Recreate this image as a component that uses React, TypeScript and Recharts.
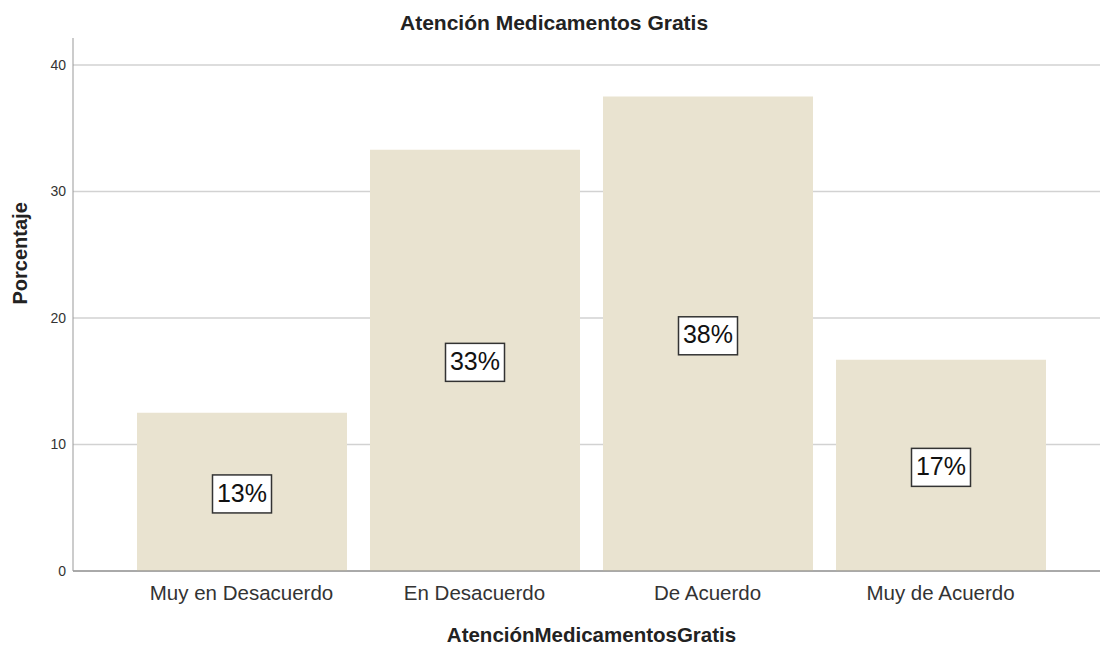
import React from 'react'
import {
  BarChart,
  Bar,
  XAxis,
  YAxis,
  CartesianGrid,
  LabelList,
} from 'recharts'

const categories = ['Muy en Desacuerdo', 'En Desacuerdo', 'De Acuerdo', 'Muy de Acuerdo']
const percentages = [12.5, 33.3, 37.5, 16.7]
const yTicks = [0, 10, 20, 30, 40]

const chartData = categories.map((name, i) => ({ name, pct: percentages[i] }))

const FONT = 'Arial, "Liberation Sans", sans-serif'

const BoxLabel = (props: any) => {
  const { x, y, width, height, value } = props
  const cx = x + width / 2
  const cy = y + height / 2 + 2
  const w = 59
  const h = 38
  return (
    <g>
      <rect x={cx - w / 2} y={cy - h / 2} width={w} height={h} fill="#fff" stroke="#333" strokeWidth={1.5} />
      <text x={cx} y={cy + 1} textAnchor="middle" dominantBaseline="middle" fontSize={25} fill="#111" fontFamily={FONT}>
        {Math.round(value) + '%'}
      </text>
    </g>
  )
}

export default function App() {
  return (
    <div style={{ position: 'absolute', left: 0, top: 0, width: 1100, height: 645, background: '#fff', fontFamily: FONT }}>
      <div style={{ position: 'absolute', top: 11, left: 400, width: 307, textAlign: 'center', fontSize: 21, fontWeight: 'bold', color: '#222', whiteSpace: 'nowrap' }}>
        Atención Medicamentos Gratis
      </div>
      <BarChart
        width={1100}
        height={645}
        data={chartData}
        margin={{ top: 38, right: 0, left: 0, bottom: 0 }}
        barSize={210}
      >
        <CartesianGrid vertical={false} stroke="#d2d2d2" strokeWidth={1.5} syncWithTicks />
        <XAxis
          dataKey="name"
          height={74}
          padding={{ left: 52, right: 43 }}
          tickLine={false}
          tickSize={6}
          tickMargin={8}
          stroke="#777"
          tick={{ fontSize: 20.5, fill: '#333', fontFamily: FONT }}
          label={{ value: 'AtenciónMedicamentosGratis', position: 'insideBottom', offset: 3, dx: 5, fontSize: 20.5, fontWeight: 'bold', fill: '#222', fontFamily: FONT }}
        />
        <YAxis
          width={73}
          domain={[0, 42.13]}
          ticks={yTicks}
          tickLine={false}
          tickSize={6}
          tickMargin={1}
          stroke="#999"
          tick={{ fontSize: 14, fill: '#333', fontFamily: FONT }}
          label={{ value: 'Porcentaje', angle: -90, position: 'insideLeft', offset: 20, fontSize: 20, fontWeight: 'bold', fill: '#222', fontFamily: FONT }}
        />
        <Bar dataKey="pct" fill="#e9e3d0" isAnimationActive={false}>
          <LabelList dataKey="pct" content={BoxLabel} />
        </Bar>
      </BarChart>
    </div>
  )
}
